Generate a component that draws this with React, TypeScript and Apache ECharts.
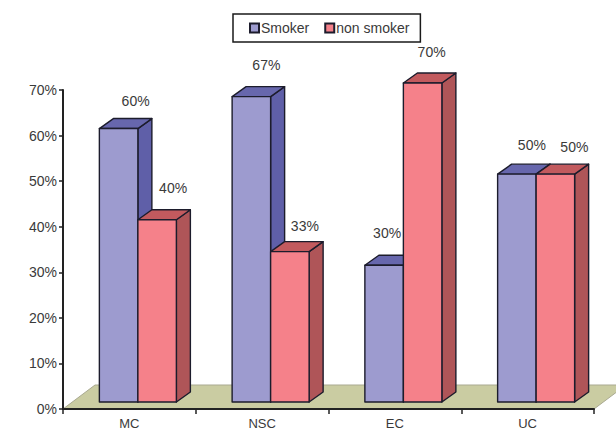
import React, { useEffect, useRef } from "react";
import * as echarts from "echarts";

const categories = ["MC", "NSC", "EC", "UC"];
const smoker = [60, 67, 30, 50];
const nonSmoker = [40, 33, 70, 50];
const labelsSmoker = ["60%", "67%", "30%", "50%"];
const labelsNonSmoker = ["40%", "33%", "70%", "50%"];

const FONT = "'Liberation Sans', Arial, sans-serif";
const TEXT = "#3a3a3a";
const EDGE = "#1c1c2c";
const FRONT_OFFSET_X = 8.5;
const FRONT_OFFSET_Y = -7;
const DEPTH_X = 14;
const DEPTH_Y = -10;
const BAR_W = 38.5;
// Hand placement of the data labels in the original, relative to the default spot.
const NUDGE_SMOKER = [[0, 2], [-2, -2], [-14, -2], [-2, 1]];
const NUDGE_NON_SMOKER = [[-1, -2], [-2, 4], [-8, -1], [2, 3]];

function barRenderer(side: -1 | 1, front: string, top: string, right: string, labels: string[], nudge: number[][]) {
  return (params: any, api: any) => {
    const idx = api.value(0);
    const val = api.value(1);
    const center = api.coord([idx, val]);
    const base = api.coord([idx, 0]);
    const x0 = center[0] + FRONT_OFFSET_X + (side === -1 ? -BAR_W : 0);
    const x1 = x0 + BAR_W;
    const yT = center[1] + FRONT_OFFSET_Y;
    const yB = base[1] + FRONT_OFFSET_Y;
    const stroke = { stroke: EDGE, lineWidth: 1.4, lineJoin: "round" };
    const [dx, dy] = nudge[params.dataIndex];
    return {
      type: "group",
      children: [
        {
          type: "polygon",
          shape: { points: [[x1, yT], [x1 + DEPTH_X, yT + DEPTH_Y], [x1 + DEPTH_X, yB + DEPTH_Y], [x1, yB]] },
          style: { fill: right, ...stroke },
        },
        {
          type: "polygon",
          shape: { points: [[x0, yT], [x0 + DEPTH_X, yT + DEPTH_Y], [x1 + DEPTH_X, yT + DEPTH_Y], [x1, yT]] },
          style: { fill: top, ...stroke },
        },
        {
          type: "rect",
          shape: { x: x0, y: yT, width: BAR_W, height: yB - yT },
          style: { fill: front, ...stroke },
        },
        {
          type: "text",
          z2: 100,
          x: (x0 + x1) / 2 + 17 + dx,
          y: yT + DEPTH_Y - 20 + dy,
          style: {
            text: labels[params.dataIndex],
            fill: TEXT,
            font: `14px ${FONT}`,
            align: "center",
            verticalAlign: "middle",
          },
        },
      ],
    };
  };
}

function floorRenderer(params: any, api: any) {
  const left = api.coord([0, 0]);
  const right = api.coord([categories.length - 1, 0]);
  const band = api.size([1, 0])[0];
  const xL = left[0] - band / 2;
  const xR = right[0] + band / 2;
  const y = left[1];
  return {
    type: "polygon",
    shape: { points: [[xL, y], [xL + 32, y - 24], [xR + 32, y - 24], [xR, y]] },
    style: { fill: "#cacca2", stroke: "#a9a990", lineWidth: 1 },
  };
}

export default function App() {
  const ref = useRef<HTMLDivElement>(null);
  useEffect(() => {
    const chart = echarts.init(ref.current!, undefined, { renderer: "svg" });
    chart.setOption({
      animation: false,
      backgroundColor: "#ffffff",
      grid: { left: 63, right: 22, top: 90, bottom: 25, containLabel: false },
      legend: {
        left: 233,
        top: 14,
        width: 186,
        height: 32,
        padding: [7, 11, 7, 16],
        itemGap: 15,
        itemWidth: 9,
        itemHeight: 9,
        borderColor: "#1a1a1a",
        borderWidth: 1.5,
        backgroundColor: "#ffffff",
        icon: "rect",
        textStyle: { color: TEXT, fontFamily: FONT, fontSize: 14, padding: [0, 0, 0, -3] },
        data: ["Smoker", "non smoker"],
      },
      xAxis: {
        type: "category",
        data: categories,
        z: 10,
        axisLine: { show: true, lineStyle: { color: "#222222", width: 2 } },
        axisTick: { show: true, alignWithLabel: false, length: 5, lineStyle: { color: "#222222", width: 1.5 } },
        axisLabel: { color: TEXT, fontFamily: FONT, fontSize: 13, margin: 8 },
        splitLine: { show: false },
      },
      yAxis: {
        type: "value",
        min: 0,
        max: 70,
        interval: 10,
        z: 10,
        axisLine: { show: true, lineStyle: { color: "#222222", width: 2 } },
        axisTick: { show: true, length: 4, lineStyle: { color: "#222222", width: 1.5 } },
        axisLabel: { color: TEXT, fontFamily: FONT, fontSize: 14, margin: 6, formatter: "{value}%" },
        splitLine: { show: false },
      },
      series: [
        {
          type: "custom",
          name: "floor",
          silent: true,
          clip: false,
          z: 1,
          data: [[0, 0]],
          renderItem: floorRenderer,
        },
        {
          type: "custom",
          name: "Smoker",
          clip: false,
          z: 2,
          itemStyle: { color: "#9d9bcf", borderColor: EDGE, borderWidth: 1 },
          data: smoker.map((v, i) => [i, v]),
          renderItem: barRenderer(-1, "#9d9bcf", "#6767ad", "#5f5fa8", labelsSmoker, NUDGE_SMOKER),
        },
        {
          type: "custom",
          name: "non smoker",
          clip: false,
          z: 2,
          itemStyle: { color: "#f5818a", borderColor: EDGE, borderWidth: 1 },
          data: nonSmoker.map((v, i) => [i, v]),
          renderItem: barRenderer(1, "#f5818a", "#c25a5e", "#af5558", labelsNonSmoker, NUDGE_NON_SMOKER),
        },
      ],
    });
    return () => chart.dispose();
  }, []);
  return <div ref={ref} style={{ position: "fixed", left: 0, top: 0, width: 616, height: 434 }} />;
}
